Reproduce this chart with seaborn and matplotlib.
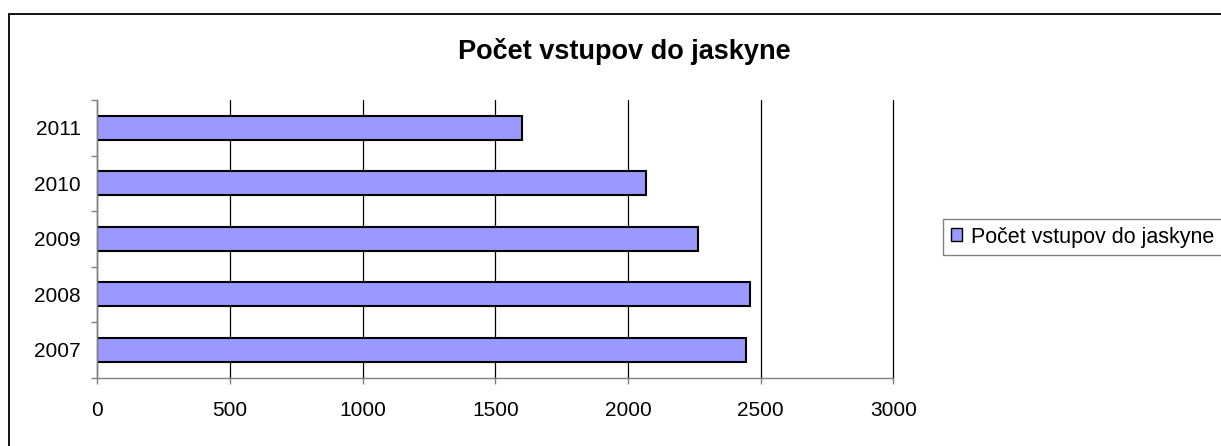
import pandas as pd
import numpy as np
import matplotlib
matplotlib.use('Agg')
import matplotlib.pyplot as plt
import matplotlib.patches as mpatches
from matplotlib.ticker import FixedLocator
import seaborn as sns

# data
roky = ['2011', '2010', '2009', '2008', '2007']
vstupy = [1600, 2067, 2263, 2460, 2444]
nazov = 'Počet vstupov do jaskyne'
x_ticks = [0, 500, 1000, 1500, 2000, 2500, 3000]

df = pd.DataFrame({'rok': roky, 'vstupy': vstupy})

sns.set_style('white')
plt.rcParams['font.family'] = ['Liberation Sans', 'DejaVu Sans']
plt.rcParams['text.color'] = 'black'
plt.rcParams['xtick.labelcolor'] = 'black'
plt.rcParams['ytick.labelcolor'] = 'black'

fig = plt.figure(figsize=(12.21, 4.46), dpi=100)
ax = fig.add_axes([0.0797, 0.1531, 0.6519, 0.6227])

sns.barplot(data=df, x='vstupy', y='rok', order=roky, orient='h',
            color='#9999FF', saturation=1, edgecolor='black', linewidth=1.5,
            width=0.43, errorbar=None, ax=ax)

ax.set_xlim(0, 3000)
ax.set_ylim(4.5, -0.5)
ax.set_xticks(x_ticks)
ax.set_xlabel('')
ax.set_ylabel('')

# vertical grid lines in black
ax.grid(axis='x', color='black', linewidth=0.9)
for gl in ax.get_xgridlines():
    gl.set_clip_on(False)
ax.set_axisbelow(True)

for s in ['top', 'right']:
    ax.spines[s].set_visible(False)
for s in ['left', 'bottom']:
    ax.spines[s].set_color('#808080')
    ax.spines[s].set_linewidth(1.0)

# ticks at category borders, labels in the middle
ax.yaxis.set_minor_locator(FixedLocator(np.arange(-0.5, 5, 1)))
ax.tick_params(axis='y', which='major', length=0, pad=12, labelsize=15, labelcolor='black')
ax.tick_params(axis='y', which='minor', left=True, length=4, width=1, color='#808080', direction='out')
ax.tick_params(axis='x', which='major', bottom=True, length=4, width=1, color='#808080', direction='out',
               pad=13, labelsize=15, labelcolor='black')

fig.text(0.511, 0.884, nazov, ha='center', va='center', fontsize=19.5, fontweight='bold', color='black')

fig.legend([mpatches.Patch(facecolor='#9999FF', edgecolor='black', linewidth=1.0)], [nazov],
           loc='upper left', bbox_to_anchor=(0.7723, 0.509), fontsize=15.5,
           frameon=True, fancybox=False, edgecolor='#808080', framealpha=1,
           handlelength=0.55, handleheight=0.55, handletextpad=0.4, borderpad=0.35,
           borderaxespad=0)

# outer chart border
fig.patches.append(mpatches.Rectangle((9 / 1221, -0.1), 1.2, 1.1 - 14 / 446, transform=fig.transFigure,
                                      fill=False, edgecolor='black', linewidth=1.3))

fig.savefig('out.png', dpi=100)
